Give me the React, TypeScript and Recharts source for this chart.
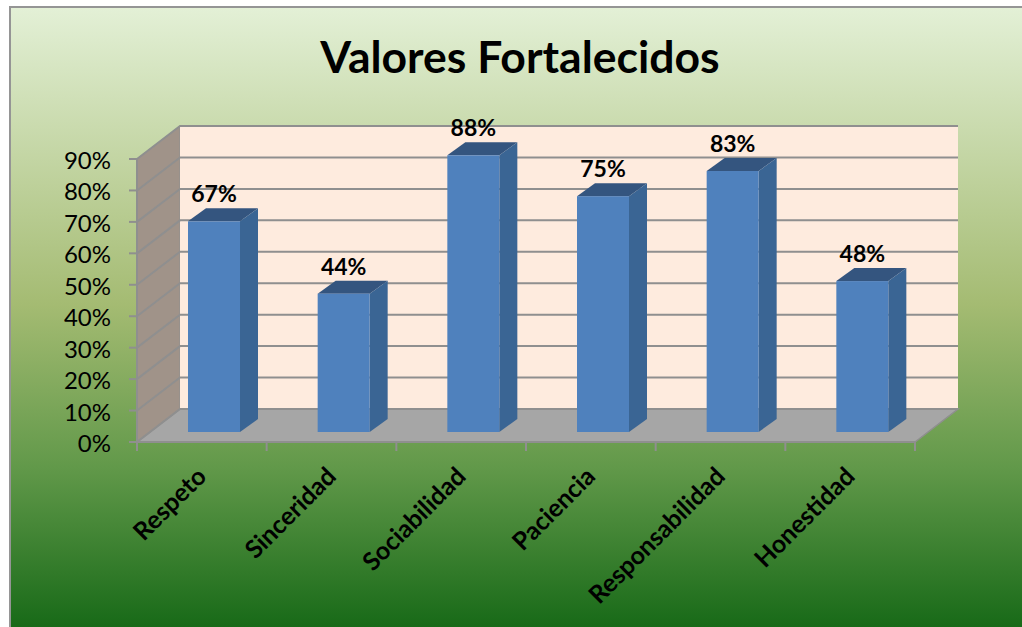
import { BarChart, Bar, XAxis, YAxis, LabelList, usePlotArea } from "recharts";

const categories = ["Respeto", "Sinceridad", "Sociabilidad", "Paciencia", "Responsabilidad", "Honestidad"];
const values = [0.67, 0.44, 0.88, 0.75, 0.83, 0.48];
const yTicks = [0, 0.1, 0.2, 0.3, 0.4, 0.5, 0.6, 0.7, 0.8, 0.9];
const yMax = 0.9;

const data = categories.map((name, i) => ({ name, value: values[i] }));

const FONT = "Lato, Carlito, sans-serif";
const DEPTH_X = 43;
const DEPTH_Y = 33;
const BAR_SHIFT_X = 12;
const BAR_SHIFT_Y = 10;
const BAR_DEPTH_X = 18;
const BAR_DEPTH_Y = 13;
const GREY = "#8f8f8f";

// walls, floor and gridlines of the 3D box, sits behind the bars
function Box3D() {
  const plot = usePlotArea();
  if (!plot) return null;
  const left = plot.x;
  const right = plot.x + plot.width;
  const top = plot.y;
  const bottom = plot.y + plot.height;
  const scaleY = (v: number) => bottom - (v / yMax) * plot.height;
  return (
    <g>
      <polygon
        points={`${left},${top} ${left + DEPTH_X},${top - DEPTH_Y} ${left + DEPTH_X},${bottom - DEPTH_Y} ${left},${bottom}`}
        fill="#a09389"
        stroke={GREY}
        strokeWidth={1}
      />
      <rect
        x={left + DEPTH_X}
        y={top - DEPTH_Y}
        width={plot.width}
        height={plot.height}
        fill="#feebde"
      />
      <polygon
        points={`${left},${bottom} ${left + DEPTH_X},${bottom - DEPTH_Y} ${right + DEPTH_X},${bottom - DEPTH_Y} ${right},${bottom}`}
        fill="#a6a6a6"
        stroke={GREY}
        strokeWidth={1.5}
      />
      {yTicks.map((t) => (
        <polyline
          key={t}
          points={`${left},${scaleY(t)} ${left + DEPTH_X},${scaleY(t) - DEPTH_Y} ${right + DEPTH_X},${scaleY(t) - DEPTH_Y}`}
          fill="none"
          stroke={GREY}
          strokeWidth={2}
        />
      ))}
      {categories.concat("").map((c, i) => (
        <line
          key={i}
          x1={left + (i * plot.width) / categories.length}
          x2={left + (i * plot.width) / categories.length}
          y1={bottom}
          y2={bottom + 9}
          stroke={GREY}
          strokeWidth={2}
        />
      ))}
    </g>
  );
}

function Title() {
  return (
    <text x={520} y={73} textAnchor="middle" fontFamily={FONT} fontWeight={700} fontSize={44.5} fill="#000">
      Valores Fortalecidos
    </text>
  );
}

function Bar3D(props: any) {
  const { x, y, width, height } = props;
  const fx = x + BAR_SHIFT_X;
  const fy = y - BAR_SHIFT_Y;
  const r = fx + width;
  const b = fy + height;
  return (
    <g>
      <polygon
        points={`${fx},${fy} ${fx + BAR_DEPTH_X},${fy - BAR_DEPTH_Y} ${r + BAR_DEPTH_X},${fy - BAR_DEPTH_Y} ${r},${fy}`}
        fill="#34557f"
      />
      <polygon
        points={`${r},${fy} ${r + BAR_DEPTH_X},${fy - BAR_DEPTH_Y} ${r + BAR_DEPTH_X},${b - BAR_DEPTH_Y} ${r},${b}`}
        fill="#3a6594"
      />
      <rect x={fx} y={fy} width={width} height={height} fill="#4f81bd" />
    </g>
  );
}

function BarValue(props: any) {
  const { x, y, width, value } = props;
  return (
    <text
      x={x + width / 2 + BAR_SHIFT_X}
      y={y - BAR_SHIFT_Y - 19}
      textAnchor="middle"
      fontFamily={FONT}
      fontWeight={700}
      fontSize={23}
      fill="#000"
    >
      {Math.round(value * 100)}%
    </text>
  );
}

function CategoryTick(props: any) {
  const { x, y, payload } = props;
  return (
    <text
      transform={`translate(${x + 6},${y + 28}) rotate(-45)`}
      textAnchor="end"
      fontFamily={FONT}
      fontWeight={700}
      fontSize={25}
      fill="#000"
    >
      {payload.value}
    </text>
  );
}

function ValueTick(props: any) {
  const { x, y, payload } = props;
  return (
    <text x={x} y={y + 10} textAnchor="end" fontFamily={FONT} fontSize={24} fill="#000">
      {Math.round(payload.value * 100)}%
    </text>
  );
}

export default function App() {
  return (
    <div style={{ position: "absolute", left: 0, top: 0, width: 1022, height: 627, background: "#fff" }}>
      <div
        style={{
          position: "absolute",
          left: 9,
          top: 6,
          right: 0,
          bottom: 0,
          borderLeft: "2px solid #959595",
          borderTop: "2px solid #959595",
          background:
            "linear-gradient(180deg, #e3f0d6 0%, #a4bb72 48%, #62994a 74%, #186a18 100%)",
        }}
      />
      <div style={{ position: "absolute", left: 0, top: 0 }}>
        <BarChart
          width={1022}
          height={627}
          data={data}
          margin={{ top: 159, right: 107, bottom: 0, left: 0 }}
          barSize={52}
        >
          <Box3D />
          <Title />
          <XAxis
            dataKey="name"
            height={185}
            interval={0}
            tick={<CategoryTick />}
            tickLine={false}
            axisLine={{ stroke: GREY, strokeWidth: 2 }}
          />
          <YAxis
            width={137}
            domain={[0, yMax]}
            ticks={yTicks}
            tick={<ValueTick />}
            tickSize={8}
            tickMargin={18}
            tickLine={{ stroke: GREY, strokeWidth: 2 }}
            axisLine={{ stroke: GREY, strokeWidth: 2 }}
          />
          <Bar dataKey="value" shape={<Bar3D />} isAnimationActive={false}>
            <LabelList dataKey="value" content={<BarValue />} />
          </Bar>
        </BarChart>
      </div>
    </div>
  );
}
